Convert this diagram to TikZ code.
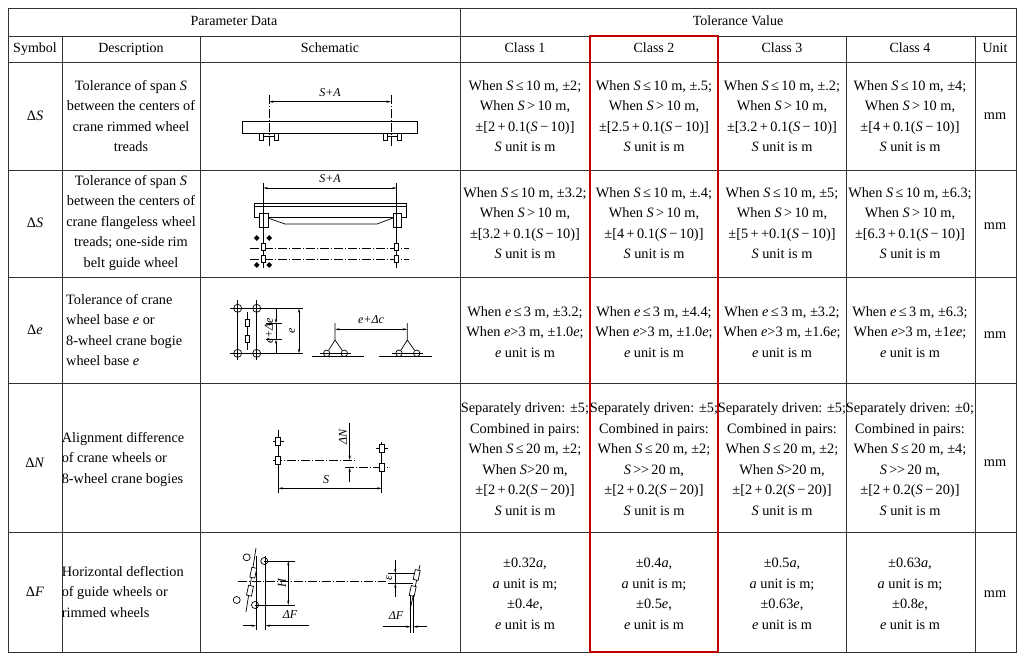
\documentclass[tikz,border=0pt]{standalone}
\usepackage{fontspec}
\setmainfont{Liberation Serif}
\usetikzlibrary{arrows.meta,shapes.geometric}
\newcommand\vS{\textit{S}}
\newcommand\ve{\textit{e}}
\newcommand\va{\textit{a}}
\newcommand\myle{\,≤\,}
\newcommand\mygt{\,>\,}
\newcommand\mypl{\,+\,}
\newcommand\mymi{\,−\,}
\newcommand\mygg{\,>{}\kern-0.5pt>\,}
\begin{document}
\begin{tikzpicture}[x=1pt,y=-1pt,
  grid/.style={line width=1pt,black!80},
  cell/.style={align=center,font=\fontsize{14.3}{20.5}\selectfont,inner sep=0pt},
  lcell/.style={align=left,font=\fontsize{14.3}{20.5}\selectfont,inner sep=0pt},
  hdr/.style={font=\fontsize{14}{16}\selectfont,inner sep=0pt,text height=10pt,text depth=3pt},
  sk/.style={line width=0.7pt},
  cl/.style={line width=0.6pt,dash pattern=on 9pt off 2pt on 1pt off 2pt},
  dim/.style={line width=0.6pt,{Stealth[length=4.5pt,width=2.2pt]}-{Stealth[length=4.5pt,width=2.2pt]}},
  arr/.style={line width=0.6pt,-{Stealth[length=4.5pt,width=2.2pt]}},
  lab/.style={font=\itshape\fontsize{12}{13}\selectfont,inner sep=1pt},
  wh/.style={sk,fill=white,minimum width=4pt,minimum height=7pt,inner sep=0pt,draw,rectangle},
  circ/.style={sk,draw,circle,minimum size=8pt,inner sep=0pt}]
\useasboundingbox (0,0) rectangle (1024,662);
\fill[white] (0,0) rectangle (1024,662);
% grid
\draw[grid] (8,8) rectangle (1016,652);
\foreach \y in {36,62,170,277,383,532} \draw[grid] (8,\y) -- (1016,\y);
\foreach \x in {62,200,590,718,846,975} \draw[grid] (\x,36) -- (\x,652);
\draw[grid] (460,8) -- (460,652);
\draw[red!75!black,line width=1.8pt] (590,36) rectangle (718,652);
% headers
\node[hdr] (h1) at (234,22) {Parameter Data};
\node[hdr] (h2) at (738,22) {Tolerance Value};
\node[hdr] (h3) at (35,49) {Symbol};
\node[hdr] (h4) at (131,49) {Description};
\node[hdr] (h5) at (330,49) {Schematic};
\node[hdr] (h6) at (525,49) {Class 1};
\node[hdr] (h7) at (654,49) {Class 2};
\node[hdr] (h8) at (782,49) {Class 3};
\node[hdr] (h9) at (910,49) {Class 4};
\node[hdr] (h10) at (995,49) {Unit};
% symbols & units
\node[cell] (s1) at (35,116) {Δ\vS};
\node[cell] (s2) at (35,223) {Δ\vS};
\node[cell] (s3) at (35,330) {Δ\ve};
\node[cell] (s4) at (35,463) {Δ\textit{N}};
\node[cell] (s5) at (35,592) {Δ\textit{F}};
\foreach \y/\n in {116/1,226/2,335/3,463/4,594/5} \node[cell] (u\n) at (995,\y) {mm};
% descriptions
\node[cell] (d1) at (131,116) {Tolerance of span \vS\\between the centers of\\crane rimmed wheel\\treads};
\node[cell] (d2) at (131,223) {Tolerance of span \vS\\between the centers of\\crane flangeless wheel\\treads; one-side rim\\belt guide wheel};
\node[lcell,anchor=west] (d3) at (66,330) {Tolerance of crane\\wheel base \ve{} or\\8-wheel crane bogie\\wheel base \ve};
\node[lcell,anchor=west] (d4) at (58,459) {\ Alignment difference\\\ of crane wheels or\\\ 8-wheel crane bogies};
\node[lcell,anchor=west] (d5) at (58,592) {\ Horizontal deflection\\\ of guide wheels or\\\ rimmed wheels};
% row 1
\node[cell] (r1c1) at (525,116) {When \vS\myle10 m, ±2;\\When \vS\mygt10 m,\\±[2\mypl0.1(\vS\mymi10)]\\\vS{} unit is m};
\node[cell] (r1c2) at (654,116) {When \vS\myle10 m, ±.5;\\When \vS\mygt10 m,\\±[2.5\mypl0.1(\vS\mymi10)]\\\vS{} unit is m};
\node[cell] (r1c3) at (782,116) {When \vS\myle10 m, ±.2;\\When \vS\mygt10 m,\\±[3.2\mypl0.1(\vS\mymi10)]\\\vS{} unit is m};
\node[cell] (r1c4) at (910,116) {When \vS\myle10 m, ±4;\\When \vS\mygt10 m,\\±[4\mypl0.1(\vS\mymi10)]\\\vS{} unit is m};
% row 2
\node[cell] (r2c1) at (525,223) {When \vS\myle10 m, ±3.2;\\When \vS\mygt10 m,\\±[3.2\mypl0.1(\vS\mymi10)]\\\vS{} unit is m};
\node[cell] (r2c2) at (654,223) {When \vS\myle10 m, ±.4;\\When \vS\mygt10 m,\\±[4\mypl0.1(\vS\mymi10)]\\\vS{} unit is m};
\node[cell] (r2c3) at (782,223) {When \vS\myle10 m, ±5;\\When \vS\mygt10 m,\\±[5\mypl+0.1(\vS\mymi10)]\\\vS{} unit is m};
\node[cell] (r2c4) at (910,223) {When \vS\myle10 m, ±6.3;\\When \vS\mygt10 m,\\±[6.3\mypl0.1(\vS\mymi10)]\\\vS{} unit is m};
% row 3
\node[cell] (r3c1) at (525,332) {When \ve\myle3 m, ±3.2;\\When \ve>3 m, ±1.0\ve;\\\ve{} unit is m};
\node[cell] (r3c2) at (654,332) {When \ve\myle3 m, ±4.4;\\When \ve>3 m, ±1.0\ve;\\\ve{} unit is m};
\node[cell] (r3c3) at (782,332) {When \ve\myle3 m, ±3.2;\\When \ve>3 m, ±1.6\ve;\\\ve{} unit is m};
\node[cell] (r3c4) at (910,332) {When \ve\myle3 m, ±6.3;\\When \ve>3 m, ±1\ve\ve;\\\ve{} unit is m};
% row 4
\node[cell] (r4c1) at (525,459) {Separately driven: ±5;\\Combined in pairs:\\When \vS\myle20 m, ±2;\\When \vS>20 m,\\±[2\mypl0.2(\vS\mymi20)]\\\vS{} unit is m};
\node[cell] (r4c2) at (654,459) {Separately driven: ±5;\\Combined in pairs:\\When \vS\myle20 m, ±2;\\\vS\mygg20 m,\\±[2\mypl0.2(\vS\mymi20)]\\\vS{} unit is m};
\node[cell] (r4c3) at (782,459) {Separately driven: ±5;\\Combined in pairs:\\When \vS\myle20 m, ±2;\\When \vS>20 m,\\±[2\mypl0.2(\vS\mymi20)]\\\vS{} unit is m};
\node[cell] (r4c4) at (910,459) {Separately driven: ±0;\\Combined in pairs:\\When \vS\myle20 m, ±4;\\\vS\mygg20 m,\\±[2\mypl0.2(\vS\mymi20)]\\\vS{} unit is m};
% row 5
\node[cell] (r5c1) at (525,594) {±0.32\va,\\\va{} unit is m;\\±0.4\ve,\\\ve{} unit is m};
\node[cell] (r5c2) at (654,594) {±0.4\va,\\\va{} unit is m;\\±0.5\ve,\\\ve{} unit is m};
\node[cell] (r5c3) at (782,594) {±0.5\va,\\\va{} unit is m;\\±0.63\ve,\\\ve{} unit is m};
\node[cell] (r5c4) at (910,594) {±0.63\va,\\\va{} unit is m;\\±0.8\ve,\\\ve{} unit is m};
% ---------- schematic 1
\draw[sk] (242.7,121.7) rectangle (417.7,133.3);
\draw[sk] (259,133.3) rectangle (263,140) (274,133.3) rectangle (278,140) (263,136) -- (274,136);
\draw[sk] (383,133.3) rectangle (387,140) (397,133.3) rectangle (401,140) (387,136) -- (397,136);
\draw[cl] (269,95) -- (269,146) (391,95) -- (391,146);
\coordinate (a1) at (269,101.7); \coordinate (b1) at (391,101.7);
\draw[dim] (a1) -- (b1);
\node[lab] (l1) at (330,93) {S+A};
% ---------- schematic 2
\draw[sk] (254,203) rectangle (406,217) (254,206.7) -- (406,206.7);
\draw[sk] (268,218) -- (285,224) -- (377,224) -- (393,218);
\draw[sk,fill=white] (259,213) rectangle (268,227) (393,213) rectangle (401,227);
\draw[sk] (263.3,183) -- (263.3,268) (396.7,183) -- (396.7,268);
\coordinate (a2) at (263.3,188); \coordinate (b2) at (396.7,188);
\draw[dim] (a2) -- (b2);
\node[lab] (l2) at (330,179) {S+A};
\draw[cl] (250,248.3) -- (409,248.3) (250,259) -- (409,259);
\foreach \p [count=\i] in {(256.7,238),(269.3,238),(256.7,265),(269.3,265)}
  \node[diamond,fill=black,inner sep=0pt,minimum size=6pt] (dm\i) at \p {};
\node[wh] (w21) at (263.3,246.7) {}; \node[wh] (w22) at (263.3,259.3) {};
\node[wh] (w23) at (396.7,246.7) {}; \node[wh] (w24) at (396.7,259.3) {};
% ---------- schematic 3
\draw[sk] (237.7,300) -- (237.7,360) (256.7,300) -- (256.7,360) (247.7,312) -- (247.7,350);
\draw[sk] (230,308.3) -- (303,308.3) (230,353.3) -- (303,353.3);
\draw[sk] (266,323.3) -- (282,323.3) (266,339.3) -- (282,339.3);
\foreach \p [count=\i] in {(237.7,308.3),(256.7,308.3),(237.7,353.3),(256.7,353.3)} \node[circ] (c3\i) at \p {};
\node[wh] (w31) at (247.7,323.3) {}; \node[wh] (w32) at (247.7,339.3) {};
\coordinate (a3) at (299,308.3); \coordinate (b3) at (299,353.3);
\draw[dim] (a3) -- (b3);
\node[lab,rotate=90] (l3) at (292,331) {e};
\coordinate (a3b) at (276,308.3); \coordinate (b3b) at (276,353.3);
\coordinate (c3b) at (276,323.3); \coordinate (d3b) at (276,339.3);
\draw[arr] (a3b) -- (c3b); \draw[arr] (b3b) -- (d3b); \draw[sk] (c3b) -- (d3b);
\node[lab,rotate=90] (l3b) at (269,331) {e+Δe};
\draw[sk] (311.7,356.7) -- (364,356.7) (379,356.7) -- (431.7,356.7);
\coordinate (t1) at (335,340); \coordinate (t2) at (407.3,340);
\node[circ,minimum size=6.5pt] (g1) at (326.7,353.3) {}; \node[circ,minimum size=6.5pt] (g2) at (344.3,353.3) {};
\node[circ,minimum size=6.5pt] (g3) at (399,353.3) {}; \node[circ,minimum size=6.5pt] (g4) at (416.7,353.3) {};
\draw[sk] (g1) -- (t1) -- (g2) (t1) -- (335,323) (g3) -- (t2) -- (g4) (t2) -- (407.3,323);
\draw[sk] (320,353.3) -- (351,353.3) (392,353.3) -- (423,353.3);
\coordinate (a3c) at (335,329.3); \coordinate (b3c) at (407.3,329.3);
\draw[dim] (a3c) -- (b3c);
\node[lab] (l3c) at (371,320) {e+Δc};
% ---------- schematic 4
\draw[sk] (278.3,430) -- (278.3,493) (381.7,441.7) -- (381.7,493);
\draw[sk] (273,441) -- (284,441) (376,448.3) -- (388,448.3);
\draw[cl] (273,460) -- (355.7,460) (345,467.7) -- (388,467.7);
\node[wh,minimum height=8pt,minimum width=5pt] (w41) at (278.3,441) {};
\node[wh,minimum height=8pt,minimum width=5pt] (w42) at (278.3,460) {};
\node[wh,minimum height=8pt,minimum width=5pt] (w43) at (381.7,448.3) {};
\node[wh,minimum height=8pt,minimum width=5pt] (w44) at (381.7,467.7) {};
\coordinate (n1) at (349.7,423); \coordinate (n2) at (349.7,460);
\coordinate (n3) at (349.7,481.7); \coordinate (n4) at (349.7,467.7);
\draw[arr] (n1) -- (n2); \draw[arr] (n3) -- (n4);
\node[lab,rotate=90] (l4) at (343,437) {ΔN};
\coordinate (a4) at (278.3,488.3); \coordinate (b4) at (381.7,488.3);
\draw[dim] (a4) -- (b4);
\node[lab] (l4b) at (326,480) {S};
% ---------- schematic 5
\draw[cl] (237.7,581) -- (385.7,581);
\draw[sk] (256,556) -- (256,630) (265.7,556) -- (265.7,630);
\draw[sk] (264.3,561) -- (295,561) (255,605) -- (295,605);
\draw[sk] (256,548) -- (246,612);
\node[wh,rotate=-12,minimum height=10pt,minimum width=5pt] (w51) at (253.3,572.7) {};
\node[wh,rotate=-12,minimum height=10pt,minimum width=5pt] (w52) at (250,590.7) {};
\foreach \p [count=\i] in {(246.7,557.3),(264.3,561),(236.7,600),(255,605)} \node[circ,minimum size=7pt] (c5\i) at \p {};
\coordinate (a5) at (288.3,561); \coordinate (b5) at (288.3,605);
\draw[dim] (a5) -- (b5);
\node[lab,rotate=90] (l5) at (282,583) {H};
\coordinate (f1) at (243,625.7); \coordinate (f2) at (256,625.7);
\coordinate (f3) at (309,625.7); \coordinate (f4) at (265.7,625.7);
\draw[arr] (f1) -- (f2); \draw[arr] (f3) -- (f4);
\node[lab] (l5b) at (290,615) {ΔF};
\draw[sk] (420,565) -- (410,610);
\draw[sk] (388,573.3) -- (416,573.3) (388,583.3) -- (413,583.3);
\node[wh,rotate=-12,minimum height=10pt,minimum width=5pt] (w53) at (416.7,575) {};
\node[wh,rotate=-12,minimum height=10pt,minimum width=5pt] (w54) at (412.7,591) {};
\draw[sk] (410.7,595) -- (410.7,633) (413.3,595) -- (413.3,633);
\coordinate (e1) at (395.3,560); \coordinate (e2) at (395.3,573.3);
\coordinate (e3) at (395.3,597); \coordinate (e4) at (395.3,583.3);
\draw[arr] (e1) -- (e2); \draw[arr] (e3) -- (e4); \draw[sk] (e2) -- (e4);
\node[lab,rotate=90] (l5c) at (389,578) {ε};
\coordinate (g5a) at (382.7,626.7); \coordinate (g5b) at (410.7,626.7);
\coordinate (g5c) at (426.7,626.7); \coordinate (g5d) at (413.3,626.7);
\draw[arr] (g5a) -- (g5b); \draw[arr] (g5c) -- (g5d);
\node[lab] (l5d) at (396,616) {ΔF};
\end{tikzpicture}
\end{document}
